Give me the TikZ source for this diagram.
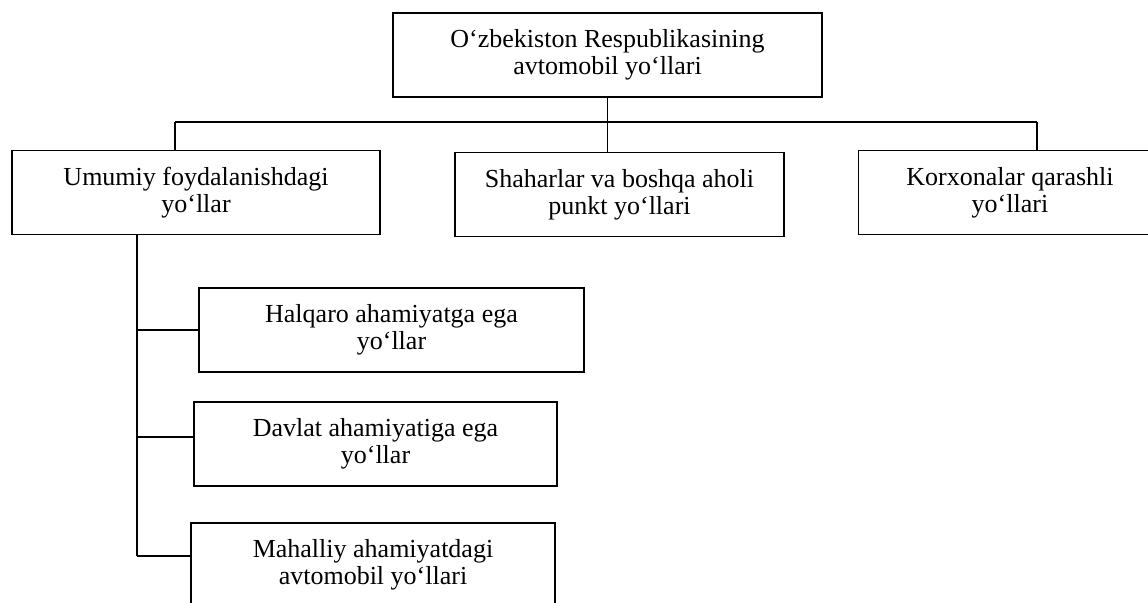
\documentclass[tikz,border=0pt]{standalone}
\usepackage{fontspec}
\setmainfont{Liberation Serif}
\usepackage{tikz}
\usetikzlibrary{positioning}

\begin{document}
\begin{tikzpicture}[
    x=0.5pt,y=-0.5pt,
    box/.style={draw,line width=0.9pt,inner sep=0pt,align=center,
                minimum height=42pt,font=\fontsize{13}{13.5}\selectfont},
    link/.style={line width=0.8pt}]
    \useasboundingbox (0,0) rectangle (1148,602);
    \node[box,minimum width=214.5pt] (root) at (607.5,55) {O‘zbekiston Respublikasining\\avtomobil yo‘llari};
    \node[box,minimum width=184pt] (gen) at (196,192.5) {Umumiy foydalanishdagi\\yo‘llar};
    \node[box,minimum width=164.5pt] (city) at (619.5,194.5) {Shaharlar va boshqa aholi\\punkt yo‘llari};
    \node[box,minimum width=151.5pt] (corp) at (1010,192.5) {Korxonalar qarashli\\yo‘llari};
    \node[box,minimum width=192.5pt] (intl) at (391.5,330) {Halqaro ahamiyatga ega\\yo‘llar};
    \node[box,minimum width=181.5pt] (state) at (375.5,444) {Davlat ahamiyatiga ega\\yo‘llar};
    \node[box,minimum width=182pt] (local) at (373,565) {Mahalliy ahamiyatdagi\\avtomobil yo‘llari};
    \coordinate (busL) at (175,122);
    \coordinate (busR) at (1037,122);
    \coordinate (spine) at (137,235);
    \coordinate (stateIn) at ([yshift=3.5pt]state.west);
    \coordinate (localIn) at ([yshift=4.5pt]local.west);
    \draw[link] (busL) -- (busR);
    \draw[link] (busL) -- (busL |- gen.north);
    \draw[link] (busR) -- (busR |- corp.north);
    \draw[link] (root.south) -- (root.south |- city.north);
    \draw[link] (spine |- gen.south) -- (spine |- localIn);
    \draw[link] (spine |- intl.west) -- (intl.west);
    \draw[link] (spine |- stateIn) -- (stateIn);
    \draw[link] (spine |- localIn) -- (localIn);
  \end{tikzpicture}
\end{document}
